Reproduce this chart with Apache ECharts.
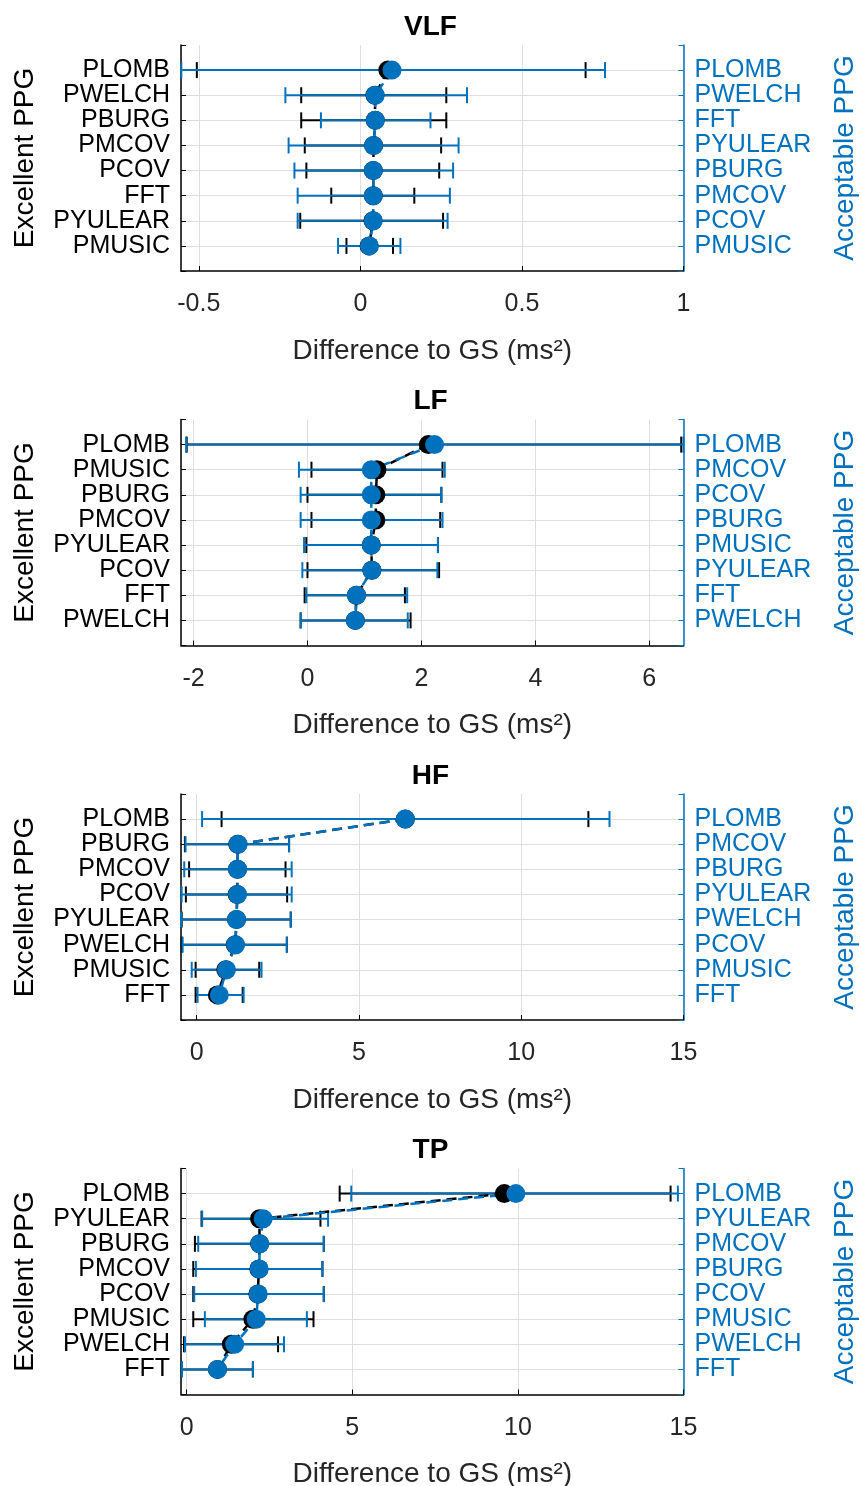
<!DOCTYPE html>
<html>
<head>
<meta charset="utf-8">
<script src="https://cdn.jsdelivr.net/npm/echarts@6/dist/echarts.min.js"></script>
<style>
  html, body { margin: 0; padding: 0; background: #fff; }
  #chart { width: 861px; height: 1486px; }
</style>
</head>
<body>
<div id="chart"></div>
<script>
// panel titles and axis ranges
const panelTitles = ['VLF', 'LF', 'HF', 'TP'];
const xMins = [-0.555, -2.22, -0.48, -0.17];
const xMaxs = [1, 6.6, 15, 15];
const xSplits = [3, 4, 3, 3];

// VLF
const vlfExcNames = ['PLOMB', 'PWELCH', 'PBURG', 'PMCOV', 'PCOV', 'FFT', 'PYULEAR', 'PMUSIC'];
const vlfAccNames = ['PLOMB', 'PWELCH', 'FFT', 'PYULEAR', 'PBURG', 'PMCOV', 'PCOV', 'PMUSIC'];
const vlfExcMean = [0.085, 0.045, 0.046, 0.041, 0.040, 0.040, 0.039, 0.027];
const vlfExcLow = [-0.506, -0.183, -0.183, -0.172, -0.167, -0.090, -0.186, -0.043];
const vlfExcHigh = [0.697, 0.266, 0.266, 0.250, 0.244, 0.167, 0.256, 0.101];
const vlfAccMean = [0.098, 0.046, 0.046, 0.041, 0.040, 0.040, 0.040, 0.028];
const vlfAccLow = [-0.554, -0.232, -0.122, -0.222, -0.204, -0.194, -0.194, -0.069];
const vlfAccHigh = [0.757, 0.330, 0.217, 0.304, 0.287, 0.277, 0.270, 0.124];

// LF
const lfExcNames = ['PLOMB', 'PMUSIC', 'PBURG', 'PMCOV', 'PYULEAR', 'PCOV', 'FFT', 'PWELCH'];
const lfAccNames = ['PLOMB', 'PMCOV', 'PCOV', 'PBURG', 'PMUSIC', 'PYULEAR', 'FFT', 'PWELCH'];
const lfExcMean = [2.12, 1.22, 1.20, 1.20, 1.12, 1.13, 0.86, 0.84];
const lfExcLow = [-2.12, 0.07, 0.0, 0.07, -0.02, 0.0, -0.05, -0.12];
const lfExcHigh = [6.56, 2.37, 2.35, 2.33, 2.29, 2.31, 1.71, 1.81];
const lfAccMean = [2.23, 1.12, 1.12, 1.12, 1.12, 1.13, 0.86, 0.84];
const lfAccLow = [-2.13, -0.15, -0.12, -0.12, -0.06, -0.09, -0.02, -0.12];
const lfAccHigh = [6.6, 2.41, 2.35, 2.37, 2.29, 2.28, 1.75, 1.76];

// HF
const hfExcNames = ['PLOMB', 'PBURG', 'PMCOV', 'PCOV', 'PYULEAR', 'PWELCH', 'PMUSIC', 'FFT'];
const hfAccNames = ['PLOMB', 'PMCOV', 'PBURG', 'PYULEAR', 'PWELCH', 'PCOV', 'PMUSIC', 'FFT'];
const hfExcMean = [6.43, 1.27, 1.26, 1.25, 1.23, 1.19, 0.90, 0.64];
const hfExcLow = [0.77, -0.36, -0.23, -0.33, -0.46, -0.46, -0.03, -0.03];
const hfExcHigh = [12.07, 2.85, 2.74, 2.79, 2.90, 2.78, 1.93, 1.42];
const hfAccMean = [6.43, 1.28, 1.26, 1.26, 1.23, 1.20, 0.92, 0.70];
const hfAccLow = [0.17, -0.34, -0.38, -0.46, -0.48, -0.43, -0.15, 0.03];
const hfAccHigh = [12.72, 2.85, 2.93, 2.93, 2.90, 2.78, 2.0, 1.45];

// TP
const tpExcNames = ['PLOMB', 'PYULEAR', 'PBURG', 'PMCOV', 'PCOV', 'PMUSIC', 'PWELCH', 'FFT'];
const tpAccNames = ['PLOMB', 'PYULEAR', 'PMCOV', 'PBURG', 'PCOV', 'PMUSIC', 'PWELCH', 'FFT'];
const tpExcMean = [9.59, 2.20, 2.20, 2.18, 2.15, 2.00, 1.35, 0.93];
const tpExcLow = [4.62, 0.45, 0.25, 0.20, 0.20, 0.20, -0.08, -0.15];
const tpExcHigh = [14.61, 4.04, 4.14, 4.10, 4.14, 3.83, 2.76, 2.00];
const tpAccMean = [9.94, 2.31, 2.21, 2.19, 2.16, 2.10, 1.45, 0.93];
const tpAccLow = [4.97, 0.47, 0.35, 0.28, 0.23, 0.55, -0.05, -0.15];
const tpAccHigh = [14.83, 4.27, 4.14, 4.10, 4.14, 3.63, 2.94, 2.00];

const panels = [
  { exc: [vlfExcNames, vlfExcMean, vlfExcLow, vlfExcHigh], acc: [vlfAccNames, vlfAccMean, vlfAccLow, vlfAccHigh] },
  { exc: [lfExcNames, lfExcMean, lfExcLow, lfExcHigh], acc: [lfAccNames, lfAccMean, lfAccLow, lfAccHigh] },
  { exc: [hfExcNames, hfExcMean, hfExcLow, hfExcHigh], acc: [hfAccNames, hfAccMean, hfAccLow, hfAccHigh] },
  { exc: [tpExcNames, tpExcMean, tpExcLow, tpExcHigh], acc: [tpAccNames, tpAccMean, tpAccLow, tpAccHigh] }
];

const BLUE = '#0072BD';
const BLACK = '#000000';
const FONT = '"Liberation Sans", Arial, sans-serif';

function errorBars(color) {
  return function (params, api) {
    const a = api.coord([api.value(0), api.value(1)]);
    const b = api.coord([api.value(2), api.value(1)]);
    const h = 8;
    const style = { stroke: color, lineWidth: 2 };
    return {
      type: 'group',
      children: [
        { type: 'line', shape: { x1: a[0], y1: a[1], x2: b[0], y2: b[1] }, style },
        { type: 'line', shape: { x1: a[0], y1: a[1] - h, x2: a[0], y2: a[1] + h }, style },
        { type: 'line', shape: { x1: b[0], y1: b[1] - h, x2: b[0], y2: b[1] + h }, style }
      ]
    };
  };
}

const gridTop = 45, gridH = 226, step = 374.5;
const title = [], grid = [], xAxis = [], yAxis = [], series = [];

panels.forEach((p, i) => {
  const top = gridTop + i * step;
  title.push({
    text: panelTitles[i], left: 'center', top: top - 32, padding: 0,
    textStyle: { fontFamily: FONT, fontSize: 28, fontWeight: 'bold', color: BLACK }
  });
  grid.push({ left: 181, right: 177.5, top: top, height: gridH, outerBoundsMode: 'none', containLabel: false });
  xAxis.push({
    type: 'value', gridIndex: i, min: xMins[i], max: xMaxs[i], splitNumber: xSplits[i],
    name: 'Difference to GS (ms²)', nameLocation: 'middle', nameGap: 66,
    nameTextStyle: { fontFamily: FONT, fontSize: 28, color: '#262626' },
    axisLine: { onZero: false, lineStyle: { color: BLACK, width: 1.5 } },
    axisTick: { inside: true, length: 5, lineStyle: { color: BLACK } },
    axisLabel: { fontFamily: FONT, fontSize: 25, color: '#262626', margin: 21,
      showMinLabel: false, showMaxLabel: Number.isInteger(xMaxs[i]),
      formatter: v => String(v) },
    splitLine: { show: true, lineStyle: { color: '#dedede', width: 1 } }
  });
  const rowSplit = { show: true, lineStyle: { color: ['transparent', '#dedede', '#dedede', '#dedede', '#dedede', '#dedede', '#dedede', '#dedede', '#dedede', 'transparent'], width: 1 } };
  yAxis.push({
    type: 'value', gridIndex: i, min: 0, max: 9, interval: 1, inverse: true, position: 'left',
    name: 'Excellent PPG', nameLocation: 'middle', nameGap: 142, nameRotate: 90,
    nameTextStyle: { fontFamily: FONT, fontSize: 28, color: BLACK },
    axisLine: { show: true, onZero: false, lineStyle: { color: BLACK, width: 1.5 } },
    axisTick: { show: true, inside: true, length: 5, lineStyle: { color: BLACK } },
    axisLabel: { fontFamily: FONT, fontSize: 25, color: BLACK, margin: 11,
      formatter: v => p.exc[0][v - 1] || '' },
    splitLine: rowSplit
  });
  yAxis.push({
    type: 'value', gridIndex: i, min: 0, max: 9, interval: 1, inverse: true, position: 'right',
    name: 'Acceptable PPG', nameLocation: 'middle', nameGap: 148, nameRotate: 90,
    nameTextStyle: { fontFamily: FONT, fontSize: 28, color: BLUE },
    axisLine: { show: true, onZero: false, lineStyle: { color: BLUE, width: 1.5 } },
    axisTick: { show: true, inside: true, length: 5, lineStyle: { color: BLUE } },
    axisLabel: { fontFamily: FONT, fontSize: 25, color: BLUE, margin: 11,
      formatter: v => p.acc[0][v - 1] || '' },
    splitLine: { show: false }
  });

  [[p.exc, BLACK, 2 * i], [p.acc, BLUE, 2 * i + 1]].forEach(([d, color, yi]) => {
    const [names, mean, low, high] = d;
    series.push({
      type: 'custom', xAxisIndex: i, yAxisIndex: yi,
      renderItem: errorBars(color),
      encode: { x: [0, 2], y: 1 },
      data: names.map((n, k) => [low[k], k + 1, high[k]])
    });
    series.push({
      type: 'line', xAxisIndex: i, yAxisIndex: yi,
      symbol: 'circle', symbolSize: 19, showSymbol: true,
      itemStyle: { color: color },
      lineStyle: { color: color, width: 2.5, type: [10, 6] },
      data: names.map((n, k) => [mean[k], k + 1])
    });
  });
});

const chart = echarts.init(document.getElementById('chart'));
chart.setOption({ animation: false, backgroundColor: '#fff', title, grid, xAxis, yAxis, series });
</script>
</body>
</html>
